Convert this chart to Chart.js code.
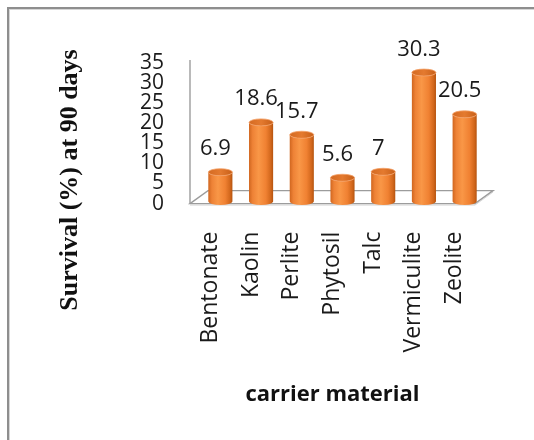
<!DOCTYPE html>
<html>
<head>
<meta charset="utf-8">
<title>Survival at 90 days by carrier material</title>
<script src="https://cdn.jsdelivr.net/npm/chart.js@4.4.1/dist/chart.umd.min.js"></script>
<style>
  html, body { margin: 0; padding: 0; background: #fff; overflow: hidden; }
  .frame {
    position: absolute; left: 7px; top: 7px; width: 560px; height: 470px;
    border-top: 2px solid #8e8e8e; border-left: 2px solid #8e8e8e;
    box-shadow: inset 1px 1px 0 #d6d6d6;
  }
  #survivalChart { position: absolute; left: 0; top: 0; }
</style>
</head>
<body>
<div class="frame"></div>
<canvas id="survivalChart" width="534" height="440"></canvas>
<script>
// survival (%) after 90 days for each carrier
const carriers = ['Bentonate', 'Kaolin', 'Perlite', 'Phytosil', 'Talc', 'Vermiculite', 'Zeolite'];
const survival = [6.9, 18.6, 15.7, 5.6, 7, 30.3, 20.5];
const yTicks = [0, 5, 10, 15, 20, 25, 30, 35];

const yTitle = 'Survival (%) at 90 days';
const xTitle = 'carrier material';

// how far the back of the floor sits from the front edge
const DEPTH_X = 18;
const DEPTH_Y = 13;
const TEXT = '#1a1a1a';

// floor plane + wall edge, drawn under the cylinders
const floorPlugin = {
    id: 'floor3d',
    beforeDatasetsDraw(chart) {
        const { ctx, chartArea: a } = chart;
        ctx.save();
        ctx.beginPath();
        ctx.moveTo(a.left, a.bottom);
        ctx.lineTo(a.right, a.bottom);
        ctx.lineTo(a.right + DEPTH_X, a.bottom - DEPTH_Y);
        ctx.lineTo(a.left + DEPTH_X, a.bottom - DEPTH_Y);
        ctx.closePath();
        ctx.fillStyle = '#fff';
        ctx.fill();

        // light shadow under the front edge
        ctx.strokeStyle = '#d9d9d9';
        ctx.lineWidth = 1;
        ctx.beginPath();
        ctx.moveTo(a.left, a.bottom + 1.5);
        ctx.lineTo(a.right, a.bottom + 1.5);
        ctx.lineTo(a.right + DEPTH_X, a.bottom - DEPTH_Y + 1.5);
        ctx.stroke();

        ctx.strokeStyle = '#9c9c9c';
        ctx.lineWidth = 1.4;
        ctx.beginPath();
        ctx.moveTo(a.left, a.bottom);
        ctx.lineTo(a.right, a.bottom);
        ctx.lineTo(a.right + DEPTH_X, a.bottom - DEPTH_Y);
        ctx.lineTo(a.left + DEPTH_X, a.bottom - DEPTH_Y);
        ctx.closePath();
        ctx.stroke();

        // value axis line
        ctx.beginPath();
        ctx.moveTo(a.left, a.top - 3);
        ctx.lineTo(a.left, a.bottom);
        ctx.stroke();
        ctx.restore();
    }
};

function drawCylinder(ctx, cx, top, bottom, rx, ry) {
    const body = ctx.createLinearGradient(cx - rx, 0, cx + rx, 0);
    body.addColorStop(0, '#d0661f');
    body.addColorStop(0.15, '#ee8236');
    body.addColorStop(0.4, '#f99747');
    body.addColorStop(0.7, '#f08132');
    body.addColorStop(0.9, '#d2671c');
    body.addColorStop(1, '#b5540f');

    ctx.beginPath();
    ctx.moveTo(cx - rx, top);
    ctx.lineTo(cx - rx, bottom);
    ctx.ellipse(cx, bottom, rx, ry, 0, Math.PI, 0, true);
    ctx.lineTo(cx + rx, top);
    ctx.ellipse(cx, top, rx, ry, 0, 0, Math.PI, false);
    ctx.closePath();
    ctx.fillStyle = body;
    ctx.fill();

    const cap = ctx.createLinearGradient(cx - rx, 0, cx + rx, 0);
    cap.addColorStop(0, '#d46a22');
    cap.addColorStop(0.5, '#e47a2f');
    cap.addColorStop(1, '#c75f18');
    ctx.beginPath();
    ctx.ellipse(cx, top, rx, ry, 0, 0, Math.PI * 2);
    ctx.fillStyle = cap;
    ctx.fill();
    ctx.strokeStyle = '#f4a066';
    ctx.lineWidth = 0.8;
    ctx.stroke();
}

// cylinders and their value labels, placed from the bar elements
const cylinderPlugin = {
    id: 'cylinders',
    afterDatasetsDraw(chart) {
        const { ctx } = chart;
        const meta = chart.getDatasetMeta(0);
        ctx.save();
        meta.data.forEach((bar, i) => {
            const cx = bar.x + DEPTH_X / 2 + 1;
            const rx = bar.width / 2;
            drawCylinder(ctx, cx, bar.y, bar.base, rx, 3.5);

            ctx.font = '22px "Open Sans"';
            ctx.fillStyle = TEXT;
            ctx.textAlign = 'center';
            ctx.textBaseline = 'alphabetic';
            ctx.fillText(String(survival[i]), cx - 5, bar.y - 17);
        });
        ctx.restore();
    }
};

// rotated serif title on the left
const sideTitlePlugin = {
    id: 'sideTitle',
    afterDraw(chart) {
        const { ctx } = chart;
        ctx.save();
        ctx.translate(70, 180);
        ctx.rotate(-Math.PI / 2);
        ctx.font = 'bold 26px "Liberation Serif"';
        ctx.fillStyle = '#111';
        ctx.textAlign = 'center';
        ctx.textBaseline = 'middle';
        ctx.fillText(yTitle, 0, 0);
        ctx.restore();
    }
};

new Chart(document.getElementById('survivalChart'), {
    type: 'bar',
    data: {
        labels: carriers,
        datasets: [{
            data: survival,
            yAxisID: 'yb',
            backgroundColor: 'rgba(0,0,0,0)',
            borderWidth: 0,
            categoryPercentage: 0.8,
            barPercentage: 0.74
        }]
    },
    options: {
        responsive: false,
        animation: false,
        devicePixelRatio: 1,
        layout: { padding: { left: 140, right: 59, top: 63, bottom: 32 } },
        plugins: {
            legend: { display: false },
            tooltip: { enabled: false },
            title: {
                display: true,
                position: 'bottom',
                fullSize: false,
                text: xTitle,
                color: '#111',
                font: { family: 'Open Sans', size: 22, weight: 'bold', lineHeight: 1.2 },
                padding: { top: 28, bottom: 0 }
            }
        },
        scales: {
            x: {
                grid: { display: false, drawTicks: false },
                border: { display: false },
                ticks: {
                    minRotation: 90,
                    maxRotation: 90,
                    autoSkip: false,
                    padding: 28,
                    color: TEXT,
                    font: { family: 'Open Sans', size: 23 }
                },
                afterFit(scale) { scale.height = 150; }
            },
            y: {
                position: 'left',
                min: 0,
                max: 35,
                afterBuildTicks(scale) { scale.ticks = yTicks.map(v => ({ value: v })); },
                grid: { display: false, drawTicks: false },
                border: { display: false },
                ticks: {
                    autoSkip: false,
                    padding: 26,
                    color: TEXT,
                    font: { family: 'Open Sans', size: 21 }
                },
                afterFit(scale) { scale.width = 50; }
            },
            // cylinders stand a little in front of the wall, so their scale is slightly steeper
            yb: { display: false, min: -0.47, max: 32.55 }
        }
    },
    plugins: [floorPlugin, cylinderPlugin, sideTitlePlugin]
});
</script>
</body>
</html>
